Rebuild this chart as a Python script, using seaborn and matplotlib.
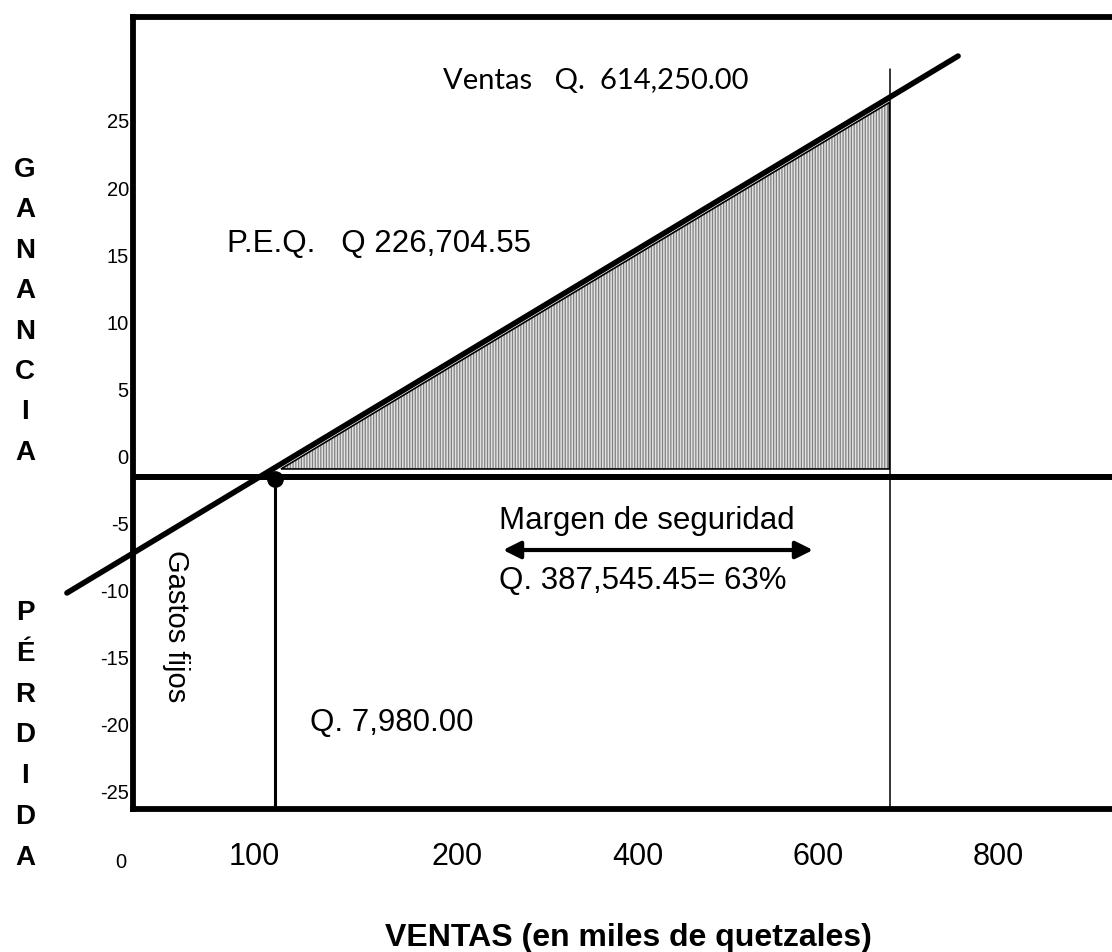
import matplotlib
matplotlib.use("Agg")
import matplotlib.pyplot as plt
import seaborn as sns

# eje vertical: ganancia / pérdida
ganancia_ticks = [25, 20, 15, 10, 5, 0, -5, -10, -15, -20, -25]
# eje horizontal: ventas (en miles de quetzales), posiciones del dibujo
ventas_labels = ["100", "200", "400", "600", "800"]
ventas_pos = [0.670, 1.795, 2.798, 3.798, 4.795]

# recta de ingresos / ganancia
recta_x = [-0.366, 4.571]
recta_y = [-10.17, 29.84]
linea_cero = -1.5

# punto de equilibrio y ventas
peq_x, peq_y = 0.787, -1.65
ventas_x, ventas_top = 4.195, 28.88

# area de margen de seguridad
margen_x = [0.82, 4.19, 4.19]
margen_y = [-0.93, -0.93, 26.38]
flecha_x = [2.05, 3.767]
flecha_y = -6.97

sns.set_style("white")
plt.rcParams["font.family"] = ["Liberation Sans", "DejaVu Sans"]
plt.rcParams["text.color"] = "black"
plt.rcParams["hatch.linewidth"] = 0.9

fig = plt.figure(figsize=(11.12, 9.52), dpi=100)
ax = fig.add_axes([133 / 1112, 143 / 952, (1122 - 133) / 1112, (809 - 17) / 952])
ax.set_xlim(0, 5.479)
ax.set_ylim(-26.27, 32.75)

for s in ax.spines.values():
    s.set_color("black")
    s.set_linewidth(4.2)

ax.set_yticks(ganancia_ticks, [str(v) for v in ganancia_ticks])
ax.set_xticks(ventas_pos, ventas_labels)
ax.tick_params(axis="y", length=0, pad=3, labelsize=14.5, colors="black",
               labelcolor="black")
ax.tick_params(axis="x", length=0, pad=24, labelsize=22, colors="black",
               labelcolor="black")

# area sombreada
ax.fill(margen_x, margen_y, facecolor="#e2e2e2", edgecolor="#808080",
        hatch="||||||", linewidth=0, zorder=2)
ax.fill(margen_x, margen_y, facecolor="none", edgecolor="black",
        linewidth=1.2, zorder=3)

# linea de cero
ax.axhline(linea_cero, color="black", lw=4.3, zorder=4)

# recta de ventas
sns.lineplot(x=recta_x, y=recta_y, ax=ax, color="black", lw=4,
             solid_capstyle="round", zorder=5)
ax.lines[-1].set_clip_on(False)

# gastos fijos / punto de equilibrio
ax.plot([peq_x, peq_x], [peq_y, ax.get_ylim()[0]], color="black", lw=2.2, zorder=4)
ax.plot([peq_x], [peq_y], "o", color="black", markersize=11, zorder=6)

# ventas
ax.plot([ventas_x, ventas_x], [ventas_top, ax.get_ylim()[0]], color="black",
        lw=1.1, zorder=4)

ax.annotate("", xy=(flecha_x[0], flecha_y), xytext=(flecha_x[1], flecha_y),
            arrowprops=dict(arrowstyle="<|-|>", color="black", lw=3,
                            mutation_scale=26, shrinkA=0, shrinkB=0))

ax.text(1.717, 27.38, "Ventas   Q.  614,250.00", fontsize=21, family="Lato",
        ha="left", va="baseline", color="black")
ax.text(0.521, 15.24, "P.E.Q.   Q 226,704.55", fontsize=22.5, ha="left",
        va="baseline", color="black")
ax.text(2.028, -5.40, "Margen de seguridad", fontsize=22.5, ha="left",
        va="baseline", color="black")
ax.text(2.028, -9.87, "Q. 387,545.45= 63%", fontsize=22.5, ha="left",
        va="baseline", color="black")
ax.text(0.238, -6.97, "Gastos fijos", fontsize=21, rotation=-90,
        ha="center", va="top", color="black")
ax.text(0.981, -20.45, "Q. 7,980.00", fontsize=22.5, ha="left", va="baseline",
        color="black")

# etiqueta 0 del eje
fig.text(121 / 1112, 1 - 863 / 952, "0", fontsize=14.5, ha="center", va="center",
         color="black")

# letras verticales
for i, ch in enumerate("GANANCIA"):
    fig.text(25 / 1112, 1 - (170 + i * 40.4) / 952, ch, fontsize=20,
             fontweight="bold", ha="center", va="center", color="black")
for i, ch in enumerate("PÉRDIDA"):
    fig.text(25 / 1112, 1 - (613 + i * 40.8) / 952, ch, fontsize=20,
             fontweight="bold", ha="center", va="center", color="black")

fig.text(628 / 1112, 1 - 946 / 952, "VENTAS (en miles de quetzales)",
         fontsize=23, fontweight="bold", ha="center", va="baseline", color="black")

fig.savefig("out.png", dpi=100)
